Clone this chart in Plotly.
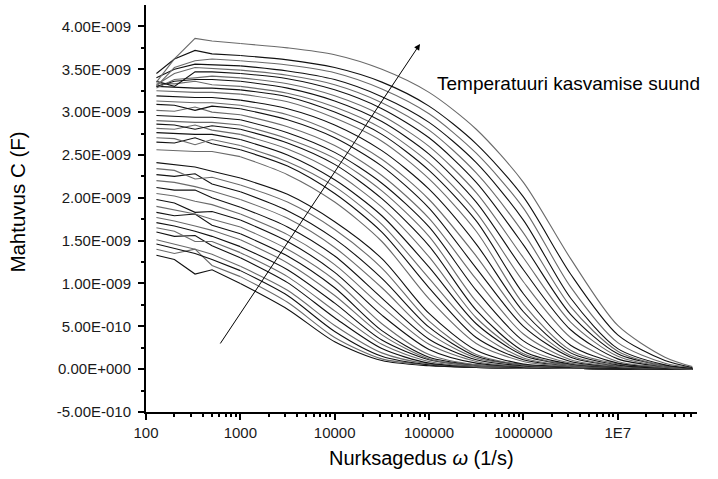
import plotly.graph_objects as go

# angular frequency grid (1/s)
omega = [129, 200, 331, 501, 1000, 3162, 10000, 31623, 100000, 316228,
         1000000, 3162278, 10000000, 31622777, 61659500]

# capacitance curves in nF, from lowest temperature (bottom) to highest (top)
cap_nF = [
    [1.33, 1.28, 1.11, 1.16, 1.00, 0.70, 0.32, 0.10, 0.04, 0.02, 0.01, 0.01, 0.00, 0.00, 0.00],
    [1.40, 1.35, 1.40, 1.21, 1.08, 0.78, 0.37, 0.12, 0.05, 0.02, 0.01, 0.01, 0.00, 0.00, 0.00],
    [1.46, 1.41, 1.35, 1.28, 1.15, 0.86, 0.44, 0.15, 0.05, 0.02, 0.01, 0.01, 0.00, 0.00, 0.00],
    [1.51, 1.46, 1.40, 1.34, 1.20, 0.92, 0.51, 0.19, 0.06, 0.03, 0.01, 0.01, 0.00, 0.00, 0.00],
    [1.60, 1.55, 1.56, 1.44, 1.30, 1.01, 0.60, 0.24, 0.07, 0.03, 0.02, 0.01, 0.00, 0.00, 0.00],
    [1.65, 1.61, 1.49, 1.49, 1.36, 1.08, 0.68, 0.29, 0.09, 0.03, 0.02, 0.01, 0.00, 0.00, 0.00],
    [1.71, 1.67, 1.61, 1.55, 1.43, 1.16, 0.77, 0.34, 0.11, 0.04, 0.02, 0.01, 0.00, 0.00, 0.00],
    [1.77, 1.73, 1.67, 1.62, 1.51, 1.24, 0.86, 0.40, 0.12, 0.04, 0.02, 0.01, 0.00, 0.00, 0.00],
    [1.83, 1.79, 1.81, 1.68, 1.58, 1.32, 0.95, 0.45, 0.14, 0.05, 0.02, 0.01, 0.00, 0.00, 0.00],
    [1.90, 1.86, 1.81, 1.75, 1.66, 1.40, 1.04, 0.53, 0.17, 0.05, 0.03, 0.01, 0.01, 0.00, 0.00],
    [1.98, 1.94, 1.83, 1.84, 1.74, 1.49, 1.13, 0.63, 0.23, 0.07, 0.03, 0.02, 0.01, 0.00, 0.00],
    [2.05, 2.02, 1.96, 1.92, 1.81, 1.57, 1.22, 0.73, 0.29, 0.09, 0.03, 0.02, 0.01, 0.00, 0.00],
    [2.12, 2.09, 2.09, 2.00, 1.89, 1.66, 1.32, 0.83, 0.35, 0.11, 0.04, 0.02, 0.01, 0.00, 0.00],
    [2.20, 2.18, 2.13, 2.08, 1.98, 1.76, 1.42, 0.95, 0.42, 0.13, 0.05, 0.02, 0.01, 0.00, 0.00],
    [2.27, 2.25, 2.28, 2.16, 2.07, 1.85, 1.52, 1.06, 0.49, 0.15, 0.05, 0.02, 0.01, 0.00, 0.00],
    [2.34, 2.32, 2.22, 2.24, 2.15, 1.95, 1.63, 1.18, 0.56, 0.17, 0.05, 0.03, 0.01, 0.01, 0.00],
    [2.41, 2.39, 2.36, 2.31, 2.23, 2.04, 1.72, 1.29, 0.65, 0.22, 0.06, 0.03, 0.01, 0.01, 0.00],
    [2.56, 2.55, 2.54, 2.54, 2.48, 2.27, 1.95, 1.49, 0.82, 0.30, 0.09, 0.03, 0.02, 0.01, 0.00],
    [2.65, 2.64, 2.70, 2.63, 2.56, 2.37, 2.05, 1.60, 0.95, 0.37, 0.11, 0.04, 0.02, 0.01, 0.00],
    [2.70, 2.69, 2.62, 2.68, 2.61, 2.42, 2.13, 1.69, 1.06, 0.45, 0.13, 0.04, 0.02, 0.01, 0.00],
    [2.76, 2.75, 2.74, 2.74, 2.68, 2.50, 2.21, 1.79, 1.19, 0.53, 0.16, 0.05, 0.02, 0.01, 0.00],
    [2.81, 2.80, 2.85, 2.79, 2.74, 2.57, 2.30, 1.89, 1.31, 0.60, 0.18, 0.05, 0.02, 0.01, 0.00],
    [2.86, 2.85, 2.80, 2.84, 2.80, 2.64, 2.39, 1.99, 1.44, 0.69, 0.21, 0.06, 0.02, 0.01, 0.00],
    [2.90, 2.89, 2.88, 2.88, 2.85, 2.69, 2.46, 2.08, 1.55, 0.79, 0.26, 0.07, 0.03, 0.01, 0.00],
    [2.96, 2.95, 2.94, 2.94, 2.91, 2.76, 2.53, 2.17, 1.66, 0.92, 0.33, 0.09, 0.03, 0.01, 0.00],
    [3.02, 3.01, 3.06, 3.00, 2.97, 2.83, 2.61, 2.26, 1.76, 1.05, 0.41, 0.11, 0.03, 0.01, 0.00],
    [3.09, 3.08, 3.02, 3.07, 3.04, 2.91, 2.70, 2.37, 1.88, 1.18, 0.50, 0.14, 0.04, 0.01, 0.00],
    [3.13, 3.12, 3.11, 3.11, 3.08, 2.97, 2.76, 2.45, 1.98, 1.32, 0.58, 0.16, 0.04, 0.01, 0.00],
    [3.19, 3.18, 3.17, 3.17, 3.14, 3.04, 2.85, 2.55, 2.10, 1.46, 0.67, 0.19, 0.05, 0.01, 0.00],
    [3.25, 3.24, 3.23, 3.23, 3.21, 3.12, 2.93, 2.66, 2.22, 1.61, 0.76, 0.22, 0.06, 0.02, 0.00],
    [3.30, 3.29, 3.28, 3.28, 3.26, 3.18, 3.00, 2.74, 2.32, 1.73, 0.88, 0.28, 0.07, 0.02, 0.00],
    [3.34, 3.33, 3.36, 3.32, 3.30, 3.22, 3.06, 2.81, 2.41, 1.83, 1.02, 0.37, 0.09, 0.02, 0.00],
    [3.30, 3.36, 3.38, 3.38, 3.36, 3.28, 3.13, 2.89, 2.51, 1.95, 1.16, 0.46, 0.12, 0.03, 0.01],
    [3.28, 3.38, 3.40, 3.42, 3.40, 3.33, 3.19, 2.96, 2.60, 2.06, 1.30, 0.55, 0.15, 0.03, 0.01],
    [3.36, 3.30, 3.47, 3.47, 3.45, 3.39, 3.26, 3.04, 2.70, 2.18, 1.45, 0.64, 0.18, 0.04, 0.01],
    [3.32, 3.45, 3.52, 3.51, 3.49, 3.43, 3.32, 3.11, 2.79, 2.29, 1.59, 0.73, 0.21, 0.04, 0.01],
    [3.40, 3.50, 3.56, 3.55, 3.54, 3.48, 3.38, 3.18, 2.88, 2.41, 1.74, 0.83, 0.24, 0.05, 0.01],
    [3.30, 3.52, 3.60, 3.62, 3.60, 3.55, 3.46, 3.27, 2.98, 2.52, 1.88, 0.96, 0.31, 0.07, 0.02],
    [3.45, 3.62, 3.72, 3.68, 3.66, 3.61, 3.52, 3.35, 3.07, 2.63, 2.01, 1.11, 0.40, 0.10, 0.02],
    [3.35, 3.62, 3.86, 3.83, 3.80, 3.75, 3.67, 3.50, 3.23, 2.80, 2.18, 1.29, 0.51, 0.14, 0.03],
]

x_tickvals = [100, 1000, 10000, 100000, 1000000, 10000000]
x_ticktext = ["100", "1000", "10000", "100000", "1000000", "1E7"]
y_tickvals = [-5e-10, 0, 5e-10, 1e-9, 1.5e-9, 2e-9, 2.5e-9, 3e-9, 3.5e-9, 4e-9]
y_ticktext = ["-5.00E-010", "0.00E+000", "5.00E-010", "1.00E-009", "1.50E-009",
              "2.00E-009", "2.50E-009", "3.00E-009", "3.50E-009", "4.00E-009"]

x_minor = [m * 10 ** d for d in range(2, 8) for m in range(2, 10) if m * 10 ** d < 7e7]
y_minor = [-2.5e-10 + k * 5e-10 for k in range(9)]

FONT = "Liberation Sans, Arial, sans-serif"
SPLIT = 4  # low-frequency part drawn with straight segments (noisy data)

fig = go.Figure()
for i, row in enumerate(cap_nF):
    color = "#111111" if i % 2 == 0 else "#6a6a6a"
    y = [v * 1e-9 for v in row]
    fig.add_trace(go.Scatter(
        x=omega[:SPLIT + 1], y=y[:SPLIT + 1], mode="lines",
        line=dict(color=color, width=1.1, shape="linear"),
        hoverinfo="skip", showlegend=False))
    fig.add_trace(go.Scatter(
        x=omega[SPLIT:], y=y[SPLIT:], mode="lines",
        line=dict(color=color, width=1.1, shape="spline", smoothing=0.8),
        hoverinfo="skip", showlegend=False))

fig.update_layout(
    width=718, height=479,
    margin=dict(l=146, r=21, t=5, b=67),
    paper_bgcolor="white", plot_bgcolor="white",
    font=dict(family=FONT, color="#000000"),
    xaxis=dict(type="log", range=[2, 7.84], showgrid=False, zeroline=False,
               showline=True, linecolor="black", linewidth=2,
               ticks="outside", ticklen=6, tickwidth=1.5, tickcolor="black",
               tickmode="array", tickvals=x_tickvals, ticktext=x_ticktext,
               tickfont=dict(size=15, family=FONT, color="#1a1a1a"),
               minor=dict(tickmode="array", tickvals=x_minor, ticks="outside",
                          ticklen=3, tickwidth=1.5, tickcolor="black", showgrid=False)),
    yaxis=dict(range=[-5e-10, 4.25e-9], showgrid=False, zeroline=False,
               showline=True, linecolor="black", linewidth=2,
               ticks="outside", ticklen=6, tickwidth=1.5, tickcolor="black",
               tickmode="array", tickvals=y_tickvals, ticktext=y_ticktext,
               ticklabelstandoff=4,
               tickfont=dict(size=15, family=FONT, color="#1a1a1a"),
               minor=dict(tickmode="array", tickvals=y_minor, ticks="outside",
                          ticklen=3, tickwidth=1.5, tickcolor="black", showgrid=False)),
)

# axis titles
fig.add_annotation(text="Nurksagedus <i>ω</i> (1/s)", xref="paper", yref="paper",
                   x=0.5, y=-0.113, xanchor="center", yanchor="middle",
                   showarrow=False, font=dict(size=20, family=FONT, color="#000"))
fig.add_annotation(text="Mahtuvus C (F)", xref="paper", yref="paper",
                   x=-0.233, y=0.516, xanchor="center", yanchor="middle",
                   textangle=-90, showarrow=False,
                   font=dict(size=20.5, family=FONT, color="#000"))

# direction arrow and label
fig.add_annotation(x=4.904, y=3.795e-9, ax=2.777, ay=0.282e-9,
                   xref="x", yref="y", axref="x", ayref="y", text="",
                   showarrow=True, arrowhead=2, arrowsize=1.2, arrowwidth=1,
                   arrowcolor="black")
fig.add_annotation(text="Temperatuuri kasvamise suund", xref="paper", yref="paper",
                   x=0.5245, y=0.808, xanchor="left", yanchor="middle",
                   showarrow=False, font=dict(size=19, family=FONT, color="#000"))

fig.write_html("out.html")
